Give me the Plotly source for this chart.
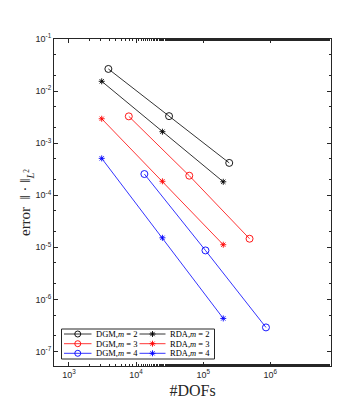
import plotly.graph_objects as go

# degrees of freedom
dofs_dgm2 = [3870, 31000, 244000]
dofs_dgm3 = [7800, 62000, 490000]
dofs_dgm4 = [13300, 108000, 860000]
dofs_rda = [3080, 24700, 199000]

# L2 errors
err_dgm2 = [2.66e-2, 3.3e-3, 4.17e-4]
err_dgm3 = [3.27e-3, 2.37e-4, 1.46e-5]
err_dgm4 = [2.55e-4, 8.7e-6, 2.89e-7]
err_rda2 = [1.54e-2, 1.66e-3, 1.81e-4]
err_rda3 = [2.94e-3, 1.85e-4, 1.12e-5]
err_rda4 = [5.1e-4, 1.52e-5, 4.3e-7]

labels = ["DGM,<i>m</i> = 2", "DGM,<i>m</i> = 3", "DGM,<i>m</i> = 4",
          "RDA,<i>m</i> = 2", "RDA,<i>m</i> = 3", "RDA,<i>m</i> = 4"]

xtick_vals = [1e3, 1e4, 1e5, 1e6]
xtick_text = ["10<sup>3</sup>", "10<sup>4</sup>", "10<sup>5</sup>", "10<sup>6</sup>"]
ytick_vals = [1e-7, 1e-6, 1e-5, 1e-4, 1e-3, 1e-2, 1e-1]
ytick_text = ["10<sup>-7</sup>", "10<sup>-6</sup>", "10<sup>-5</sup>", "10<sup>-4</sup>",
              "10<sup>-3</sup>", "10<sup>-2</sup>", "10<sup>-1</sup>"]

W, H = 357, 404
ML, MR, MT, MB = 46, 34, 31, 46
serif = "Liberation Serif"
ink = "#262626"

fig = go.Figure()

series = [
    (dofs_dgm2, err_dgm2, "black", "circle-open"),
    (dofs_dgm3, err_dgm3, "red", "circle-open"),
    (dofs_dgm4, err_dgm4, "blue", "circle-open"),
    (dofs_rda, err_rda2, "black", "asterisk-open"),
    (dofs_rda, err_rda3, "red", "asterisk-open"),
    (dofs_rda, err_rda4, "blue", "asterisk-open"),
]
for (x, y, c, sym), name in zip(series, labels):
    fig.add_trace(go.Scatter(
        x=x, y=y, name=name, mode="lines+markers", showlegend=False,
        line=dict(color=c, width=0.8),
        marker=dict(symbol=sym, size=7 if sym == "circle-open" else 5,
                    color=c, line=dict(color=c, width=0.9)),
    ))

axis_common = dict(
    type="log", ticks="inside", ticklen=4, tickcolor=ink,
    showline=True, linecolor=ink, linewidth=1, mirror="allticks",
    showgrid=False, zeroline=False,
    tickfont=dict(family="Liberation Sans", size=9, color=ink),
    minor=dict(ticks="inside", ticklen=2, tickcolor=ink, showgrid=False),
)

fig.update_layout(
    xaxis=dict(axis_common, range=[2.778, 6.903],
               tickvals=xtick_vals, ticktext=xtick_text,
               title=dict(text="#DOFs", font=dict(family=serif, size=16, color=ink),
                          standoff=6)),
    yaxis=dict(axis_common, range=[-7.28, -1],
               tickvals=ytick_vals, ticktext=ytick_text,
               title=dict(text="error  ‖ · ‖<sub><i>L</i><sup>2</sup></sub>",
                          font=dict(family=serif, size=15, color=ink),
                          standoff=0)),
    # legend drawn in pixel space on an overlay axis (two columns, compact rows)
    xaxis2=dict(overlaying="x", range=[ML, W - MR], visible=False, fixedrange=True),
    yaxis2=dict(overlaying="y", range=[H - MB, MT], visible=False, fixedrange=True),
)

box = dict(x0=53.5, x1=206.5, y0=321, y1=351)
fig.add_shape(type="rect", xref="x2", yref="y2", line=dict(color=ink, width=1),
              fillcolor="white", layer="below", **box)
row_y = [326, 335.7, 345.3]
col_x = [(56, 83.5, 86), (131.5, 157.5, 160)]
for i, ((_, _, c, sym), name) in enumerate(zip(series, labels)):
    x0, x1, xt = col_x[i // 3]
    yy = row_y[i % 3]
    fig.add_trace(go.Scatter(
        x=[x0, x1], y=[yy, yy], xaxis="x2", yaxis="y2", mode="lines",
        line=dict(color=c, width=0.8), showlegend=False, hoverinfo="skip"))
    fig.add_trace(go.Scatter(
        x=[(x0 + x1) / 2], y=[yy], xaxis="x2", yaxis="y2", mode="markers",
        marker=dict(symbol=sym, size=6 if sym == "circle-open" else 5,
                    color=c, line=dict(color=c, width=0.9)),
        showlegend=False, hoverinfo="skip"))
    fig.add_annotation(x=xt, y=yy, xref="x2", yref="y2", text=name,
                       showarrow=False, xanchor="left", yanchor="middle",
                       font=dict(family=serif, size=8.5, color="black"))

fig.update_layout(
    width=W, height=H,
    margin=dict(l=ML, r=MR, t=MT, b=MB),
    paper_bgcolor="white", plot_bgcolor="white",
    showlegend=False,
)

fig.write_html("out.html")
